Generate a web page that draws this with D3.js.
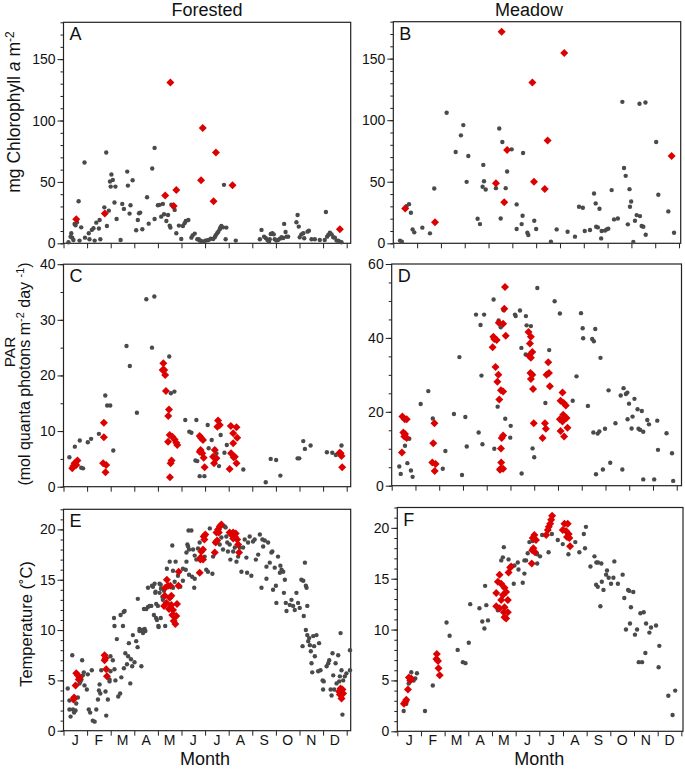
<!DOCTYPE html>
<html>
<head>
<meta charset="utf-8">
<script src="https://cdn.jsdelivr.net/npm/d3@7"></script>
<style>
  body { margin: 0; background: #fff; }
  svg { display: block; font-family: "Liberation Sans", Arial, Helvetica, sans-serif; }
</style>
</head>
<body>
<svg id="chart" width="685" height="769"></svg>
<script>
// month labels (x in months since 1 Jan, label sits mid-month)
const monthLabels = ['J','F','M','A','M','J','J','A','S','O','N','D'];
const columnTitles = ['Forested', 'Meadow'];

// y tick values per row
const chlTicks = [0, 50, 100, 150];
const parForestTicks = [0, 10, 20, 30, 40];
const parMeadowTicks = [0, 20, 40, 60];
const tempTicks = [0, 5, 10, 15, 20];

// ---- A: forested chlorophyll [month, mg m-2]
const forestChlGray = [[0.21,0.8],[0.33,8.2],[0.30,5.4],[0.37,4.6],[0.42,2.7],[0.47,15.8],[0.51,14.7],[0.57,17.1],[0.64,34.2],[0.68,2.2],[0.75,13.0],[0.89,65.8],[0.91,4.6],[1.07,8.2],[1.10,3.3],[1.20,10.9],[1.27,12.2],[1.32,2.2],[1.39,16.8],[1.50,12.0],[1.53,19.0],[1.56,3.3],[1.73,29.3],[1.81,73.9],[1.84,14.1],[1.92,26.6],[1.97,50.3],[2.03,56.0],[2.09,51.6],[2.00,46.2],[2.20,46.2],[2.16,33.2],[2.25,19.8],[2.42,2.7],[2.49,32.1],[2.56,28.0],[2.70,58.4],[2.73,47.0],[2.80,24.2],[2.84,31.0],[2.93,51.4],[3.08,10.6],[3.15,19.0],[3.20,24.5],[3.25,25.0],[3.34,11.4],[3.54,37.5],[3.61,16.0],[3.76,60.9],[3.86,77.7],[3.86,19.8],[4.00,31.0],[4.07,31.3],[4.14,21.7],[4.21,32.1],[4.26,23.6],[4.36,18.2],[4.43,23.1],[4.50,14.4],[4.53,12.8],[4.57,31.5],[4.64,29.9],[4.71,27.2],[4.78,8.2],[4.89,14.4],[4.99,3.5],[5.06,14.1],[5.13,16.3],[5.18,18.2],[5.29,19.0],[5.42,4.6],[5.47,6.3],[5.56,7.9],[5.67,3.3],[5.73,3.3],[5.77,2.2],[5.81,2.2],[5.88,1.4],[5.94,1.4],[6.01,2.2],[6.08,2.4],[6.15,2.7],[6.24,3.8],[6.34,3.5],[6.41,4.9],[6.45,6.5],[6.51,8.2],[6.56,9.5],[6.62,11.4],[6.65,13.0],[6.69,14.1],[6.76,13.0],[6.80,47.6],[6.87,3.3],[6.90,12.8],[7.30,2.2],[8.32,3.3],[8.39,10.9],[8.50,5.4],[8.57,4.3],[8.64,2.7],[8.71,1.1],[8.74,3.3],[8.78,7.6],[8.85,8.2],[8.91,7.3],[8.95,3.3],[9.02,2.2],[9.09,2.7],[9.17,3.8],[9.24,4.9],[9.31,4.3],[9.35,15.8],[9.41,9.2],[9.45,5.4],[9.52,5.4],[9.87,17.1],[9.92,23.1],[9.97,13.6],[10.01,4.9],[10.08,7.3],[10.16,8.2],[10.20,4.1],[10.34,9.5],[10.40,10.3],[10.51,3.3],[10.65,3.3],[10.86,2.7],[11.07,2.7],[11.12,25.5],[11.17,5.4],[11.22,6.8],[11.29,8.7],[11.36,7.3],[11.43,4.9],[11.50,4.6],[11.57,2.2],[11.64,2.2],[11.71,1.4],[11.78,0.8]];
const forestChlRed = [[0.54,19.6],[1.75,24.2],[4.31,38.9],[4.53,131.0],[4.67,30.4],[4.78,43.5],[5.83,51.4],[5.90,94.0],[6.36,34.2],[6.46,73.9],[7.16,47.3],[11.71,11.4]];

// ---- B: meadow chlorophyll
const meadowChlGray = [[0.28,2.2],[0.36,1.3],[0.56,30.2],[0.66,31.8],[0.74,24.8],[0.81,11.3],[0.88,8.9],[1.22,12.7],[1.54,8.1],[1.72,44.5],[2.24,106.0],[2.62,74.2],[2.84,87.7],[2.94,96.0],[3.08,49.9],[3.15,70.9],[3.54,20.0],[3.64,15.6],[3.75,45.9],[3.78,63.7],[3.81,50.4],[3.88,43.7],[4.31,44.8],[4.45,93.3],[4.51,20.2],[4.58,82.3],[4.72,44.8],[4.78,58.3],[4.97,76.3],[5.18,31.6],[5.18,11.6],[5.39,15.6],[5.43,22.4],[5.45,73.4],[5.63,8.6],[5.67,6.7],[5.92,18.3],[6.00,11.6],[6.62,1.3],[6.86,11.3],[7.32,9.4],[7.63,5.4],[7.80,29.7],[7.96,28.9],[8.04,10.0],[8.26,10.8],[8.43,40.5],[8.50,32.4],[8.52,13.5],[8.59,12.9],[8.66,28.1],[8.73,4.0],[8.75,10.0],[8.89,10.3],[8.96,11.3],[9.03,11.9],[9.17,43.2],[9.27,19.4],[9.43,20.2],[9.62,114.9],[9.69,61.2],[9.76,54.8],[9.85,15.4],[9.92,44.0],[9.94,29.7],[9.99,34.0],[10.08,1.1],[10.15,18.3],[10.22,22.9],[10.34,113.3],[10.36,22.1],[10.43,14.0],[10.50,13.5],[10.59,114.4],[10.60,7.0],[11.04,82.3],[11.13,39.4],[11.55,25.9],[11.79,8.6]];
const meadowChlRed = [[0.50,28.3],[1.75,17.0],[4.31,48.8],[4.55,171.8],[4.66,33.4],[4.78,75.8],[5.84,130.6],[5.91,49.9],[6.36,44.2],[6.48,83.6],[7.18,154.6],[11.69,70.9]];

// ---- C: forested PAR
const forestParGray = [[0.25,5.3],[0.48,7.2],[0.69,8.3],[0.75,3.4],[0.83,3.3],[1.03,8.0],[1.17,8.6],[1.50,9.5],[1.77,16.4],[1.85,14.6],[1.98,14.6],[2.11,6.5],[2.67,25.3],[2.81,21.7],[3.11,13.3],[3.51,33.7],[3.75,25.0],[3.85,34.2],[4.48,23.4],[4.55,16.8],[4.70,17.1],[5.16,12.0],[5.33,9.9],[5.42,9.7],[5.63,12.0],[5.59,4.7],[5.67,4.6],[5.77,1.9],[5.97,1.9],[6.11,11.1],[6.15,6.9],[6.28,8.4],[6.42,6.7],[6.48,6.0],[6.59,3.7],[6.66,9.3],[6.82,6.1],[6.92,7.5],[7.62,3.1],[8.57,0.8],[8.78,5.0],[9.01,4.8],[9.19,2.0],[9.92,5.1],[9.99,5.1],[10.16,8.2],[10.23,6.8],[10.47,7.4],[11.16,6.2],[11.39,6.1],[11.54,5.7],[11.78,7.4]];
const forestParRed = [[0.37,3.3],[0.47,4.2],[0.54,3.9],[0.59,4.7],[0.42,3.7],[1.71,11.5],[1.71,8.9],[1.68,4.2],[1.81,3.9],[1.78,2.6],[4.23,22.2],[4.20,21.0],[4.27,21.0],[4.31,20.1],[4.34,17.2],[4.44,12.7],[4.47,13.9],[4.43,8.1],[4.50,9.3],[4.58,4.7],[4.54,4.2],[4.51,1.7],[4.61,9.0],[4.71,8.5],[4.78,7.9],[4.82,7.5],[5.77,9.1],[5.84,8.7],[5.81,6.6],[5.88,6.0],[5.77,6.3],[5.91,8.4],[5.94,5.2],[5.98,3.5],[6.34,5.4],[6.41,6.6],[6.38,4.2],[6.48,5.1],[6.55,11.9],[6.52,10.8],[6.62,11.1],[7.09,10.9],[7.04,3.2],[7.10,6.0],[7.19,7.8],[7.19,9.6],[7.26,5.4],[7.33,10.7],[7.33,4.2],[7.36,8.8],[7.21,5.3],[11.70,6.1],[11.78,5.5],[11.81,3.5],[11.74,6.0]];

// ---- D: meadow PAR
const meadowParGray = [[0.32,5.2],[0.38,3.2],[0.56,10.8],[0.66,6.1],[0.74,12.7],[0.81,4.1],[0.88,2.4],[1.22,22.1],[1.54,25.6],[1.73,18.2],[2.15,4.6],[2.26,9.4],[2.62,19.4],[2.85,34.8],[2.96,2.9],[3.10,18.6],[3.16,10.6],[3.55,46.3],[3.66,14.4],[3.74,43.5],[3.78,29.8],[3.82,11.2],[3.89,46.3],[4.29,50.4],[4.32,10.0],[4.46,21.4],[4.50,44.7],[4.59,42.9],[4.71,47.5],[4.78,18.1],[5.01,16.2],[4.99,13.0],[5.19,46.3],[5.22,45.9],[5.40,47.4],[5.46,37.3],[5.47,3.3],[5.65,45.9],[5.68,43.4],[5.86,43.2],[5.64,35.5],[5.93,10.1],[6.00,7.7],[6.13,53.5],[6.47,22.4],[6.63,36.7],[6.86,49.9],[7.08,46.6],[7.62,23.0],[7.78,29.6],[7.97,46.7],[8.04,42.6],[8.06,39.9],[8.26,21.6],[8.44,39.7],[8.51,39.1],[8.57,42.4],[8.49,14.4],[8.60,3.1],[8.67,14.1],[8.74,14.7],[8.79,34.6],[8.89,4.4],[8.98,15.4],[9.13,25.8],[9.20,6.2],[9.42,16.9],[9.64,24.4],[9.71,4.4],[9.76,26.4],[9.86,24.8],[9.92,25.2],[9.93,18.0],[9.99,22.2],[10.10,15.5],[10.14,18.7],[10.22,23.5],[10.35,20.7],[10.39,15.4],[10.46,15.1],[10.53,20.2],[10.59,14.6],[10.59,1.7],[10.76,17.8],[10.83,16.6],[11.05,1.7],[11.18,17.6],[11.21,9.7],[11.57,14.2],[11.80,8.8],[11.85,1.3]];
const meadowParRed = [[0.45,18.7],[0.55,18.0],[0.63,18.0],[0.49,14.4],[0.56,14.0],[0.53,13.3],[0.63,12.9],[0.43,9.0],[1.80,16.9],[1.75,11.5],[1.71,6.3],[1.85,5.9],[1.81,4.0],[4.25,37.5],[4.28,40.3],[4.32,39.7],[4.42,39.4],[4.37,32.1],[4.49,30.0],[4.45,28.1],[4.53,23.3],[4.60,25.8],[4.69,25.5],[4.51,44.1],[4.69,43.8],[4.74,47.9],[4.77,53.8],[4.80,40.6],[4.60,10.1],[4.63,12.9],[4.69,13.6],[4.61,6.3],[4.58,4.6],[4.69,4.6],[4.56,4.3],[5.76,41.6],[5.86,40.3],[5.82,38.5],[5.92,36.2],[5.78,35.2],[5.86,34.6],[5.84,30.5],[5.92,30.0],[5.86,28.9],[5.95,26.2],[5.98,16.9],[6.45,16.9],[6.49,15.4],[6.35,12.9],[6.59,33.4],[6.52,30.0],[6.62,30.5],[6.66,26.9],[7.19,25.2],[7.11,23.0],[7.24,22.4],[7.33,21.7],[7.08,18.0],[7.22,19.2],[7.29,18.5],[7.19,17.4],[7.36,18.3],[7.11,14.8],[7.26,13.3],[7.40,15.7]];

// ---- E: forested temperature (°C)
const forestTempGray = [[0.18,4.2],[0.25,3.0],[0.25,2.1],[0.30,1.4],[0.37,7.5],[0.40,2.1],[0.45,1.8],[0.51,2.0],[0.54,2.7],[0.61,3.3],[0.65,5.4],[0.68,4.7],[0.72,4.9],[0.76,5.1],[0.79,7.0],[0.82,5.5],[0.86,5.8],[0.89,4.5],[0.99,4.1],[1.03,5.6],[1.07,2.1],[1.13,1.8],[1.20,6.0],[1.24,1.0],[1.32,0.9],[1.39,2.1],[1.46,3.1],[1.50,4.0],[1.53,4.6],[1.56,3.7],[1.60,6.0],[1.78,3.9],[1.81,1.5],[1.88,3.1],[1.95,5.1],[1.95,4.9],[1.99,7.4],[1.99,5.9],[2.09,7.0],[2.16,6.1],[2.14,11.2],[2.16,10.4],[2.20,5.0],[2.26,9.1],[2.32,3.4],[2.40,3.7],[2.45,5.3],[2.42,11.5],[2.52,10.4],[2.55,11.8],[2.56,6.2],[2.59,11.9],[2.62,7.7],[2.69,6.6],[2.74,7.4],[2.77,8.7],[2.83,4.7],[2.86,7.1],[2.91,6.4],[2.94,9.5],[3.01,6.8],[3.08,8.9],[3.14,8.3],[3.15,13.1],[3.22,9.9],[3.22,10.1],[3.30,6.4],[3.34,10.0],[3.37,9.7],[3.41,12.1],[3.44,10.1],[3.47,9.9],[3.51,12.1],[3.58,14.2],[3.58,12.3],[3.65,12.4],[3.72,12.4],[3.75,14.4],[3.79,14.3],[3.83,11.5],[3.86,14.6],[3.89,13.7],[3.90,13.8],[3.92,11.2],[3.93,12.6],[3.96,11.0],[4.00,12.4],[4.02,10.4],[4.03,10.3],[4.07,14.6],[4.07,13.7],[4.12,14.5],[4.12,11.2],[4.13,14.1],[4.19,13.3],[4.21,13.0],[4.26,13.9],[4.31,10.4],[4.38,16.1],[4.50,16.8],[4.61,18.4],[4.64,15.9],[4.64,14.2],[4.71,14.8],[4.75,16.8],[4.85,15.4],[4.95,14.3],[5.06,16.1],[5.06,14.9],[5.18,16.0],[5.21,16.8],[5.21,17.7],[5.25,18.5],[5.28,18.3],[5.30,19.9],[5.32,18.0],[5.32,15.5],[5.42,19.9],[5.45,15.3],[5.49,18.0],[5.54,14.2],[5.56,15.1],[5.56,17.4],[5.63,17.0],[5.70,18.1],[5.77,18.7],[5.98,17.3],[6.05,16.0],[6.12,15.8],[6.20,20.1],[6.31,15.6],[6.34,17.3],[6.41,18.7],[6.62,18.5],[6.69,19.2],[6.76,18.0],[6.83,20.3],[6.87,20.2],[6.90,19.3],[6.94,18.7],[6.97,17.8],[7.04,18.5],[7.07,17.0],[7.19,17.8],[7.26,18.2],[7.33,16.8],[7.40,17.3],[7.47,18.2],[7.54,15.8],[7.61,18.2],[7.68,19.0],[7.75,17.2],[7.78,15.7],[7.82,18.7],[7.89,19.3],[7.96,15.4],[8.03,18.8],[8.10,19.0],[8.15,17.0],[8.25,17.5],[8.32,19.5],[8.39,14.2],[8.43,19.0],[8.46,18.3],[8.53,18.9],[8.60,16.3],[8.60,15.1],[8.67,18.7],[8.74,16.7],[8.81,17.7],[8.85,17.8],[8.88,14.0],[8.95,16.2],[9.00,14.4],[9.02,12.7],[9.09,17.3],[9.17,15.7],[9.19,16.4],[9.24,16.0],[9.31,15.8],[9.34,13.7],[9.38,15.0],[9.42,12.7],[9.45,11.9],[9.59,12.5],[9.66,13.0],[9.73,12.4],[9.80,12.0],[9.87,13.7],[9.94,12.7],[10.01,12.2],[10.08,15.0],[10.13,8.4],[10.16,14.9],[10.18,11.4],[10.23,16.7],[10.27,14.4],[10.30,14.2],[10.33,12.4],[10.27,10.0],[10.33,9.5],[10.37,8.9],[10.41,9.2],[10.44,8.5],[10.48,7.9],[10.51,6.7],[10.54,5.8],[10.58,9.4],[10.62,8.4],[10.65,7.4],[10.72,9.5],[10.79,5.9],[10.83,8.7],[10.89,6.0],[10.98,5.0],[11.00,4.1],[11.03,4.9],[11.15,6.4],[11.22,6.7],[11.26,7.0],[11.32,4.1],[11.36,3.5],[11.40,7.7],[11.43,5.5],[11.47,4.1],[11.53,6.7],[11.57,4.7],[11.64,7.5],[11.68,4.9],[11.71,5.4],[11.74,9.7],[11.78,6.0],[11.82,1.6],[11.85,5.0],[11.92,5.4],[11.99,5.7],[12.14,8.0],[12.14,6.0]];
const forestTempRed = [[0.45,3.3],[0.42,3.1],[0.51,4.5],[0.54,5.7],[0.61,5.5],[0.68,5.3],[0.65,5.1],[1.74,7.0],[1.74,7.5],[1.78,7.2],[1.81,6.1],[1.84,5.4],[4.31,14.2],[4.38,15.0],[4.43,14.4],[4.53,14.4],[4.29,13.4],[4.50,13.2],[4.57,13.4],[4.26,12.4],[4.36,12.7],[4.47,12.1],[4.57,12.5],[4.64,12.0],[4.81,12.6],[4.61,11.5],[4.71,11.4],[4.78,11.4],[4.67,10.9],[4.74,10.6],[4.87,14.4],[4.88,15.8],[5.77,15.7],[5.80,17.0],[5.84,17.8],[5.91,18.0],[5.81,17.2],[5.91,17.0],[5.94,19.3],[6.01,19.5],[5.97,19.0],[6.41,17.7],[6.45,18.7],[6.51,18.9],[6.48,19.7],[6.58,19.7],[6.62,20.3],[6.69,20.5],[6.55,20.0],[7.04,19.7],[7.11,19.5],[7.19,19.7],[7.26,19.3],[7.30,19.6],[7.36,19.0],[7.40,18.5],[7.44,17.7],[7.19,19.1],[11.68,3.9],[11.71,3.6],[11.78,3.2],[11.82,4.1],[11.74,4.2],[11.85,3.7]];

// ---- F: meadow temperature
const meadowTempGray = [[0.27,2.0],[0.38,2.7],[0.48,4.7],[0.55,5.0],[0.59,5.8],[0.69,5.0],[0.76,5.2],[0.83,5.7],[1.17,2.0],[1.50,4.5],[2.08,10.7],[2.21,9.4],[2.55,8.0],[2.77,6.8],[2.88,6.7],[3.02,8.7],[3.08,12.5],[3.47,12.1],[3.59,10.8],[3.68,10.1],[3.71,14.3],[3.76,12.4],[3.83,10.9],[4.25,11.9],[4.39,16.8],[4.46,17.1],[4.50,18.1],[4.70,16.9],[4.92,14.5],[4.95,16.3],[5.09,16.6],[5.12,15.9],[5.30,14.6],[5.37,15.5],[5.37,16.8],[5.44,16.8],[5.51,17.5],[5.58,18.6],[5.72,18.7],[5.91,17.4],[5.91,16.5],[6.03,17.2],[6.12,19.3],[6.39,17.6],[6.53,19.4],[6.78,18.8],[6.99,18.4],[7.23,17.4],[7.52,18.6],[7.69,17.6],[7.88,19.4],[7.93,18.0],[7.97,20.1],[8.16,16.2],[8.33,17.2],[8.41,16.6],[8.48,16.6],[8.62,16.5],[8.40,14.4],[8.47,14.2],[8.58,12.3],[8.64,14.7],[8.71,13.9],[8.82,15.4],[8.86,15.8],[8.93,15.1],[9.03,14.5],[9.13,15.1],[9.17,16.7],[9.32,14.5],[9.52,15.4],[9.59,13.1],[9.66,10.0],[9.75,13.9],[9.80,13.8],[9.83,10.6],[9.87,12.2],[9.97,13.7],[10.04,9.5],[10.13,10.0],[10.20,6.8],[10.27,11.6],[10.34,6.8],[10.41,11.7],[10.48,7.7],[10.51,10.6],[10.65,9.7],[10.72,10.2],[10.93,10.4],[11.04,6.3],[11.07,8.4],[11.45,3.5],[11.63,1.6],[11.74,4.0]];
const meadowTempRed = [[0.28,2.7],[0.34,2.9],[0.38,3.1],[0.45,4.1],[0.49,5.3],[0.55,5.0],[0.59,5.2],[1.67,7.6],[1.65,7.1],[1.72,6.9],[1.74,6.2],[1.79,5.5],[4.32,15.4],[4.25,14.7],[4.39,14.5],[4.53,14.1],[4.18,13.6],[4.46,13.4],[4.60,13.7],[4.67,12.9],[4.39,12.9],[4.18,12.3],[4.32,12.1],[4.53,12.2],[4.50,11.7],[4.60,11.1],[4.53,11.2],[4.67,11.7],[4.77,16.1],[4.70,15.6],[4.81,16.2],[5.79,19.3],[5.72,19.0],[5.86,18.8],[5.75,18.0],[5.70,17.8],[5.82,17.6],[5.68,16.5],[6.29,19.3],[6.40,20.1],[6.46,20.4],[6.50,20.8],[6.54,21.2],[6.36,19.8],[7.06,20.4],[7.20,20.4],[6.99,19.8],[7.13,19.7],[7.24,19.4],[7.17,19.1],[7.27,19.0],[7.30,18.2]];

const svg = d3.select('#chart');
const grayColor = '#4a4a4a';
const redColor = '#dd0000';

// panel frames (pixel boxes) - layout only
const panels = [
  { letter: 'A', gray: forestChlGray, red: forestChlRed, ticks: chlTicks, minor: 10, yMax: 180,
    left: 63.5, right: 350.7, xMax: 12.17, top: 22.3, bottom: 243.3 },
  { letter: 'B', gray: meadowChlGray, red: meadowChlRed, ticks: chlTicks, minor: 10, yMax: 180,
    left: 393.3, right: 680.7, xMax: 12.07, top: 21.7, bottom: 243.3 },
  { letter: 'C', gray: forestParGray, red: forestParRed, ticks: parForestTicks, minor: 5, yMax: 40,
    left: 63.5, right: 350.7, xMax: 12.17, top: 264.2, bottom: 486.7 },
  { letter: 'D', gray: meadowParGray, red: meadowParRed, ticks: parMeadowTicks, minor: 5, yMax: 60,
    left: 391.7, right: 681.5, xMax: 12.2, top: 264, bottom: 485.7 },
  { letter: 'E', gray: forestTempGray, red: forestTempRed, ticks: tempTicks, minor: 1, yMax: 22,
    left: 63.5, right: 350.7, xMax: 12.17, top: 509.3, bottom: 730.7, months: true },
  { letter: 'F', gray: meadowTempGray, red: meadowTempRed, ticks: tempTicks, minor: 1, yMax: 22,
    left: 397.3, right: 683, xMax: 12.07, top: 507.5, bottom: 731.3, months: true }
];

const diamond = d3.symbol().type(d3.symbolSquare).size(32);

panels.forEach(p => {
  const x = d3.scaleLinear().domain([0, p.xMax]).range([p.left, p.right]);
  const y = d3.scaleLinear().domain([0, p.yMax]).range([p.bottom, p.top]);
  const g = svg.append('g');

  // minor y ticks
  g.append('g')
    .attr('transform', `translate(${p.left},0)`)
    .call(d3.axisLeft(y).tickValues(d3.range(0, p.yMax + 1e-6, p.minor)).tickSize(3).tickFormat(''))
    .call(a => a.select('.domain').remove())
    .selectAll('line').attr('stroke', '#222');

  // major y ticks
  g.append('g')
    .attr('transform', `translate(${p.left},0)`)
    .call(d3.axisLeft(y).tickValues(p.ticks).tickSize(6).tickPadding(2))
    .call(a => a.select('.domain').remove())
    .call(a => a.selectAll('text').attr('font-size', 14).attr('fill', '#111')
      .attr('font-family', '"Liberation Sans", Arial, sans-serif'))
    .selectAll('line').attr('stroke', '#222');

  // month boundary ticks
  g.append('g')
    .attr('transform', `translate(0,${p.bottom})`)
    .call(d3.axisBottom(x).tickValues(d3.range(0, 13)).tickSize(5).tickFormat(''))
    .call(a => a.select('.domain').remove())
    .selectAll('line').attr('stroke', '#222');

  if (p.months) {
    g.selectAll('text.month')
      .data(monthLabels)
      .join('text')
      .attr('class', 'month')
      .attr('x', (d, i) => x(i + 0.5))
      .attr('y', 744.5)
      .attr('text-anchor', 'middle')
      .attr('font-size', 14)
      .attr('fill', '#111')
      .text(d => d);
    g.append('text')
      .attr('x', x(6))
      .attr('y', 765)
      .attr('text-anchor', 'middle')
      .attr('font-size', 18)
      .attr('fill', '#111')
      .text('Month');
  }

  // frame
  g.append('rect')
    .attr('x', p.left).attr('y', p.top)
    .attr('width', p.right - p.left).attr('height', p.bottom - p.top)
    .attr('fill', 'none').attr('stroke', '#222').attr('stroke-width', 1.2);

  // gray points
  g.append('g').selectAll('circle')
    .data(p.gray)
    .join('circle')
    .attr('cx', d => x(d[0]))
    .attr('cy', d => y(d[1]))
    .attr('r', 2.2)
    .attr('fill', grayColor);

  // red diamonds
  g.append('g').selectAll('path')
    .data(p.red)
    .join('path')
    .attr('d', diamond)
    .attr('transform', d => `translate(${x(d[0])},${y(d[1])}) rotate(45)`)
    .attr('fill', redColor);

  g.append('text')
    .attr('x', p.left + 6)
    .attr('y', p.top + 18)
    .attr('font-size', 18)
    .attr('fill', '#111')
    .text(p.letter);
});

// column titles
svg.append('text').attr('x', 207).attr('y', 16).attr('text-anchor', 'middle')
  .attr('font-size', 18).attr('fill', '#111').text(columnTitles[0]);
svg.append('text').attr('x', 529).attr('y', 16).attr('text-anchor', 'middle')
  .attr('font-size', 18).attr('fill', '#111').text(columnTitles[1]);

// y axis titles
const chlLabel = svg.append('text')
  .attr('transform', 'translate(20,112) rotate(-90)')
  .attr('text-anchor', 'middle').attr('font-size', 17.5).attr('fill', '#111');
chlLabel.append('tspan').text('mg Chlorophyll ');
chlLabel.append('tspan').attr('font-style', 'italic').text('a');
chlLabel.append('tspan').text(' m');
chlLabel.append('tspan').attr('dy', -6).attr('font-size', 12).text('-2');

svg.append('text')
  .attr('transform', 'translate(14.5,352) rotate(-90)')
  .attr('text-anchor', 'middle').attr('font-size', 15.5).attr('fill', '#111')
  .text('PAR');
const parLabel = svg.append('text')
  .attr('transform', 'translate(30,374) rotate(-90)')
  .attr('text-anchor', 'middle').attr('font-size', 16).attr('fill', '#111');
parLabel.append('tspan').text('(mol quanta photons m');
parLabel.append('tspan').attr('dy', -6).attr('font-size', 11).text('-2');
parLabel.append('tspan').attr('dy', 6).text(' day ');
parLabel.append('tspan').attr('dy', -6).attr('font-size', 11).text('-1');
parLabel.append('tspan').attr('dy', 6).text(')');

svg.append('text')
  .attr('transform', 'translate(32,624) rotate(-90)')
  .attr('text-anchor', 'middle').attr('font-size', 16.5).attr('fill', '#111')
  .text('Temperature (˚C)');
</script>
</body>
</html>
